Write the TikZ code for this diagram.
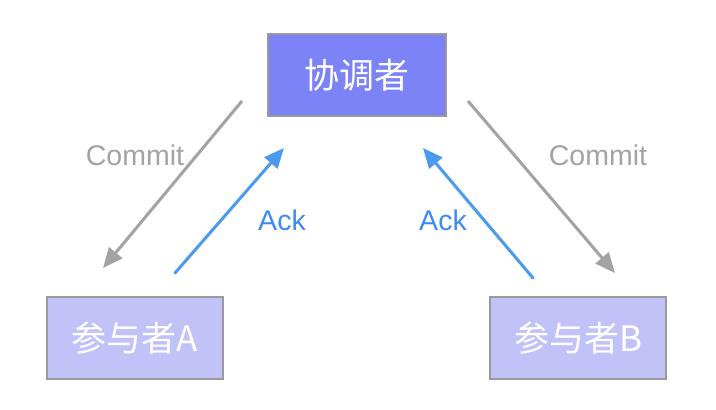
\documentclass[tikz,border=0pt]{standalone}
\usepackage{fontspec}
\setmainfont{Liberation Sans}
\newfontfamily\cjk{Noto Sans CJK SC}
\usetikzlibrary{arrows.meta}
\definecolor{topfill}{HTML}{7B83F7}
\definecolor{subfill}{HTML}{C0C2F8}
\definecolor{boxline}{HTML}{9A9A9A}
\definecolor{graya}{HTML}{A3A3A3}
\definecolor{bluea}{HTML}{4A9BEE}
\definecolor{bluet}{HTML}{3D8AF0}
\tikzset{
  box/.style={draw=boxline, line width=1.2pt, minimum height=82pt, text=white, inner sep=0pt, font=\fontsize{35}{38}\selectfont},
  topbox/.style={box, fill=topfill, minimum width=178pt},
  subbox/.style={box, fill=subfill, minimum width=176pt},
  grayarrow/.style={draw=graya, line width=3pt, -{Triangle[length=20pt,width=17pt]}},
  bluearrow/.style={draw=bluea, line width=3pt, line cap=round, -{Triangle[length=20pt,width=17pt]}},
  glabel/.style={text=graya, font=\fontsize{28.5}{31}\selectfont},
  blabel/.style={text=bluet, font=\fontsize{28.5}{31}\selectfont},
}
\begin{document}
\begin{tikzpicture}[x=1pt,y=-1pt]
\useasboundingbox (0,0) rectangle (716,410);
\fill[white] (0,0) rectangle (716,410);
\node[topbox] (coord) at (357,75) {\cjk 协调者};
\node[subbox] (pa) at (135,338) {\cjk 参与者A};
\node[subbox] (pb) at (578,338) {\cjk 参与者B};
\coordinate (c1s) at (242,101);
\coordinate (c1e) at (103,268);
\coordinate (a1s) at (175,273);
\coordinate (a1e) at (284,148);
\coordinate (c2s) at (468,101);
\coordinate (c2e) at (615,273);
\coordinate (a2s) at (533,278);
\coordinate (a2e) at (423,148);
\draw[grayarrow] (c1s) -- (c1e);
\draw[bluearrow] (a1s) -- (a1e);
\draw[grayarrow] (c2s) -- (c2e);
\draw[bluearrow] (a2s) -- (a2e);
\node[glabel] (l1) at (135,155) {Commit};
\node[glabel] (l2) at (598,155) {Commit};
\node[blabel] (l3) at (282,220) {Ack};
\node[blabel] (l4) at (443,220) {Ack};
\end{tikzpicture}
\end{document}
